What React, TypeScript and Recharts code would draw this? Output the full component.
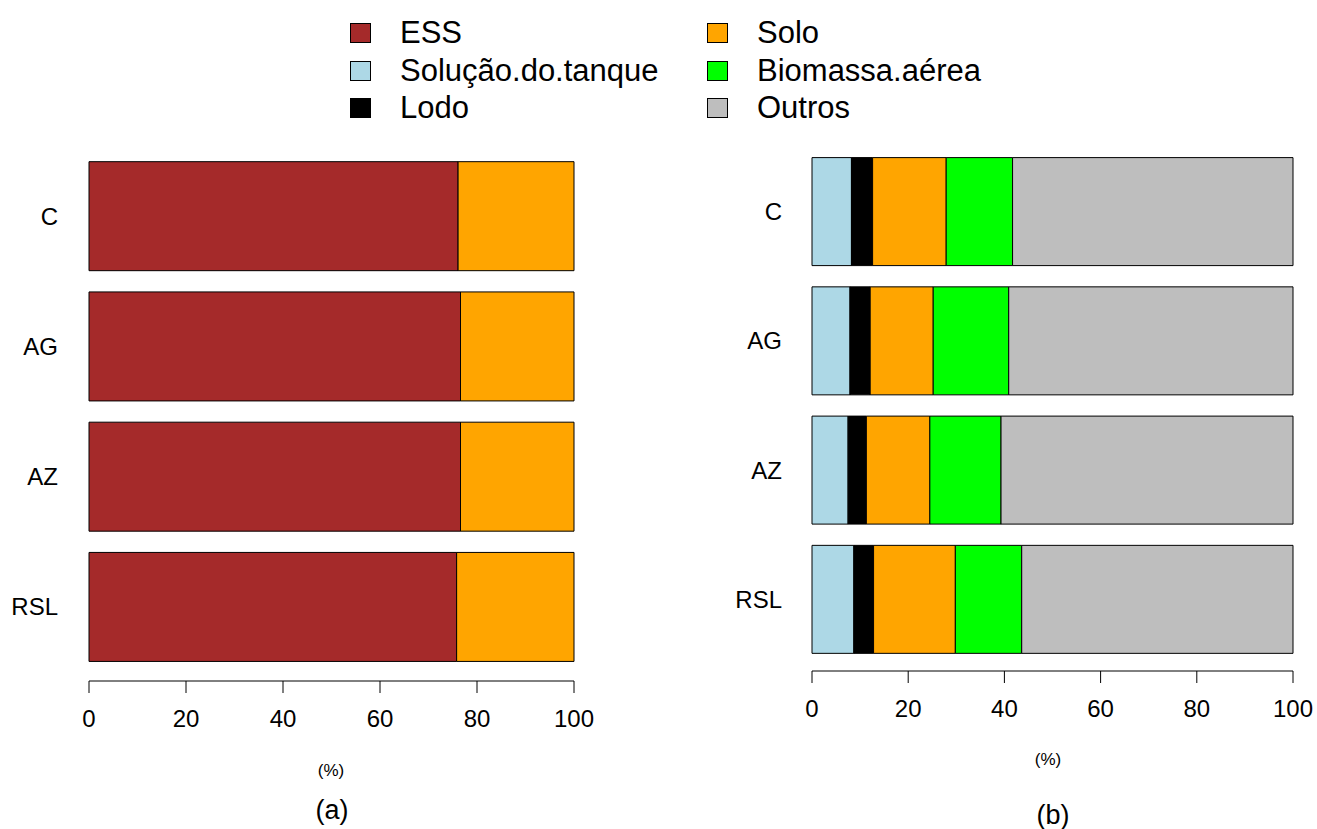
import React from "react";
import { BarChart, Bar, XAxis, YAxis } from "recharts";

// categories
const groups = ["C", "AG", "AZ", "RSL"];

// (a) distribution, %
const essA = [76.1, 76.6, 76.6, 75.8];
const soloA = [23.9, 23.4, 23.4, 24.2];

// (b) distribution, %
const solucaoB = [8.2, 7.9, 7.5, 8.7];
const lodoB = [4.4, 4.2, 3.8, 4.1];
const soloB = [15.3, 13.1, 13.2, 17.0];
const biomassaB = [13.8, 15.7, 14.8, 13.8];
const outrosB = [58.3, 59.1, 60.7, 56.4];

const xTicks = [0, 20, 40, 60, 80, 100];

const legendCol1 = [
  { name: "ESS", color: "#A52A2A" },
  { name: "Solução.do.tanque", color: "#ADD8E6" },
  { name: "Lodo", color: "#000000" },
];
const legendCol2 = [
  { name: "Solo", color: "#FFA500" },
  { name: "Biomassa.aérea", color: "#00FF00" },
  { name: "Outros", color: "#BEBEBE" },
];

const font = '"Liberation Sans", Arial, sans-serif';

const dataA = groups.map((g, i) => ({ group: g, ess: essA[i], solo: soloA[i] }));
const dataB = groups.map((g, i) => ({
  group: g,
  solucao: solucaoB[i],
  lodo: lodoB[i],
  solo: soloB[i],
  biomassa: biomassaB[i],
  outros: outrosB[i],
}));

const tickStyle = { fill: "#000", fontSize: 24, fontFamily: font };

function LegendColumn({ items, left }: { items: { name: string; color: string }[]; left: number }) {
  return (
    <>
      {items.map((it, i) => (
        <div
          key={it.name}
          style={{ position: "absolute", left, top: 33 + i * 37.5 - 18, height: 36, display: "flex", alignItems: "center" }}
        >
          <div
            style={{
              width: 21,
              height: 20,
              background: it.color,
              border: "1.5px solid #000",
              boxSizing: "border-box",
              marginRight: 29,
            }}
          />
          <span style={{ fontSize: 31, fontFamily: font, color: "#000", whiteSpace: "nowrap" }}>{it.name}</span>
        </div>
      ))}
    </>
  );
}

function Caption({ text, x, y, size }: { text: string; x: number; y: number; size: number }) {
  return (
    <div
      style={{
        position: "absolute",
        left: x - 100,
        top: y - size * 0.6,
        width: 200,
        textAlign: "center",
        fontSize: size,
        lineHeight: `${size * 1.2}px`,
        fontFamily: font,
        color: "#000",
      }}
    >
      {text}
    </div>
  );
}

export default function App() {
  return (
    <div style={{ position: "absolute", left: 0, top: 0, width: 1317, height: 829, background: "#fff" }}>
      <style>{`
        .chartA .recharts-xAxis { transform: translateY(9px); }
        .chartB .recharts-xAxis { transform: translateY(7px); }
      `}</style>

      <LegendColumn items={legendCol1} left={350} />
      <LegendColumn items={legendCol2} left={707} />

      <div className="chartA" style={{ position: "absolute", left: 0, top: 0 }}>
        <BarChart
          width={640}
          height={829}
          data={dataA}
          layout="vertical"
          barCategoryGap="8.2%"
          margin={{ top: 151, right: 66, bottom: 97, left: 0 }}
        >
          <XAxis
            type="number"
            domain={[0, 100]}
            ticks={xTicks}
            height={60}
            stroke="#000"
            tickSize={12}
            tickMargin={26}
            tick={tickStyle}
          />
          <YAxis
            type="category"
            dataKey="group"
            width={89}
            axisLine={false}
            tickLine={false}
            tickSize={0}
            tickMargin={31}
            tick={tickStyle}
          />
          <Bar dataKey="ess" stackId="a" fill="#A52A2A" stroke="#000" strokeWidth={1} isAnimationActive={false} />
          <Bar dataKey="solo" stackId="a" fill="#FFA500" stroke="#000" strokeWidth={1} isAnimationActive={false} />
        </BarChart>
      </div>

      <div className="chartB" style={{ position: "absolute", left: 680, top: 0 }}>
        <BarChart
          width={637}
          height={829}
          data={dataB}
          layout="vertical"
          barCategoryGap="8.2%"
          margin={{ top: 147, right: 24, bottom: 105, left: 0 }}
        >
          <XAxis
            type="number"
            domain={[0, 100]}
            ticks={xTicks}
            height={60}
            stroke="#000"
            tickSize={12}
            tickMargin={24}
            tick={tickStyle}
          />
          <YAxis
            type="category"
            dataKey="group"
            width={132}
            axisLine={false}
            tickLine={false}
            tickSize={0}
            tickMargin={30}
            tick={tickStyle}
          />
          <Bar dataKey="solucao" stackId="b" fill="#ADD8E6" stroke="#000" strokeWidth={1} isAnimationActive={false} />
          <Bar dataKey="lodo" stackId="b" fill="#000000" stroke="#000" strokeWidth={1} isAnimationActive={false} />
          <Bar dataKey="solo" stackId="b" fill="#FFA500" stroke="#000" strokeWidth={1} isAnimationActive={false} />
          <Bar dataKey="biomassa" stackId="b" fill="#00FF00" stroke="#000" strokeWidth={1} isAnimationActive={false} />
          <Bar dataKey="outros" stackId="b" fill="#BEBEBE" stroke="#000" strokeWidth={1} isAnimationActive={false} />
        </BarChart>
      </div>

      <Caption text="(%)" x={331} y={771} size={17} />
      <Caption text="(a)" x={332} y={810} size={27} />
      <Caption text="(%)" x={1048} y={760} size={17} />
      <Caption text="(b)" x={1053} y={815} size={27} />
    </div>
  );
}
